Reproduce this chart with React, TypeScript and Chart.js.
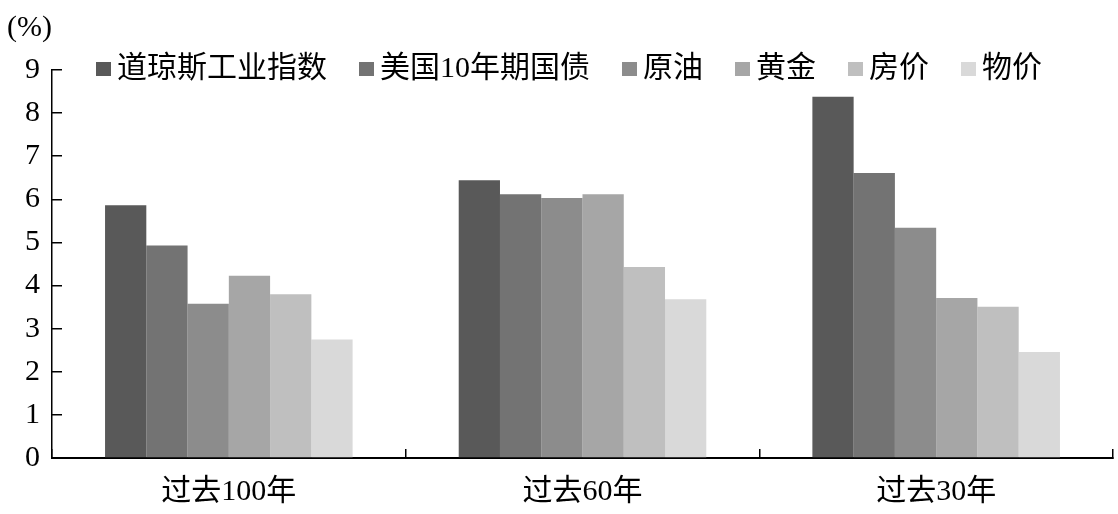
import React, { useEffect, useRef } from "react";
import { Chart, registerables } from "chart.js";

Chart.register(...registerables);

const categories = ["过去100年", "过去60年", "过去30年"];
const seriesNames = ["道琼斯工业指数", "美国10年期国债", "原油", "黄金", "房价", "物价"];
const dowJones = [5.86, 6.44, 8.38];
const usTreasury10y = [4.93, 6.12, 6.61];
const crudeOil = [3.58, 6.03, 5.34];
const gold = [4.23, 6.12, 3.71];
const housePrice = [3.8, 4.43, 3.51];
const cpi = [2.75, 3.68, 2.46];
const seriesValues = [dowJones, usTreasury10y, crudeOil, gold, housePrice, cpi];
const seriesColors = ["#595959", "#737373", "#8c8c8c", "#a6a6a6", "#bfbfbf", "#d9d9d9"];
const yTicks = [0, 1, 2, 3, 4, 5, 6, 7, 8, 9];
const unitLabel = "(%)";

const FONT = "'Liberation Serif', 'Noto Sans CJK SC', serif";

const legendPlugin = {
  id: "customLegend",
  afterDraw(chart: any) {
    const ctx = chart.ctx;
    ctx.save();
    ctx.font = `30px ${FONT}`;
    ctx.textBaseline = "middle";
    ctx.textAlign = "left";
    let x = 96;
    const cy = 69;
    chart.data.datasets.forEach((ds: any) => {
      ctx.fillStyle = ds.backgroundColor;
      ctx.fillRect(x, cy - 7, 15, 14);
      x += 15 + 6;
      ctx.fillStyle = "#000";
      ctx.fillText(ds.label, x, cy);
      x += ctx.measureText(ds.label).width + 32;
    });
    ctx.restore();
  },
};

export default function App() {
  const canvasRef = useRef<HTMLCanvasElement | null>(null);

  useEffect(() => {
    if (!canvasRef.current) return;
    const chart = new Chart(canvasRef.current, {
      type: "bar",
      data: {
        labels: categories,
        datasets: seriesNames.map((name, i) => ({
          label: name,
          data: seriesValues[i],
          backgroundColor: seriesColors[i],
          borderWidth: 0,
          categoryPercentage: 0.7,
          barPercentage: 1.0,
        })),
      },
      options: {
        animation: false,
        responsive: true,
        maintainAspectRatio: false,
        layout: { padding: { left: 7, right: 5, top: 0, bottom: 0 } },
        plugins: {
          legend: { display: false },
          tooltip: { enabled: false },
          title: {
            display: true,
            text: unitLabel,
            align: "start",
            color: "#000",
            font: { family: FONT, size: 30, weight: "normal", lineHeight: 1.2 },
            padding: { top: 10, bottom: 24 },
          },
        },
        scales: {
          x: {
            offset: true,
            grid: {
              offset: true,
              drawOnChartArea: false,
              drawTicks: true,
              tickLength: -9,
              color: "#000",
              lineWidth: 1.5,
            },
            border: { display: true, color: "#000", width: 2 },
            ticks: {
              color: "#000",
              padding: 28,
              font: { family: FONT, size: 30, lineHeight: 1 },
            },
            afterFit: (scale: any) => {
              scale.height = 56;
            },
          },
          y: {
            min: 0,
            max: 9,
            afterBuildTicks: (scale: any) => {
              scale.ticks = yTicks.map((v) => ({ value: v }));
            },
            grid: {
              drawOnChartArea: false,
              drawTicks: true,
              tickLength: -10,
              color: "#000",
              lineWidth: 1.5,
            },
            border: { display: true, color: "#000", width: 1.5 },
            ticks: {
              color: "#000",
              padding: 22,
              font: { family: FONT, size: 30, lineHeight: 1 },
            },
            afterFit: (scale: any) => {
              scale.width = 45;
            },
          },
        },
      },
      plugins: [legendPlugin],
    });
    return () => chart.destroy();
  }, []);

  return (
    <div style={{ position: "absolute", left: 0, top: 0, width: 1118, height: 514, background: "#fff" }}>
      <canvas ref={canvasRef} />
    </div>
  );
}
